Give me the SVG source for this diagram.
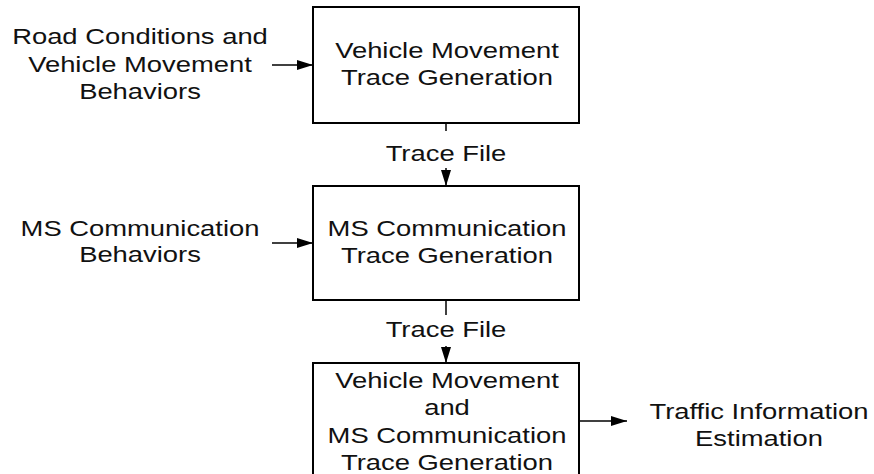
<svg xmlns="http://www.w3.org/2000/svg" width="874" height="474" viewBox="0 0 874 474">
  <style>
    .box { fill: #ffffff; stroke: #000000; stroke-width: 2; }
    .lbl { font-family: "Liberation Sans", Arial, sans-serif; font-size: 22px; fill: #111111; text-anchor: middle; }
    .wire { fill: none; stroke: #000000; stroke-width: 1.5; }
  </style>
  <defs>
    <marker id="arrow" markerWidth="16" markerHeight="10" refX="16" refY="5" orient="auto" markerUnits="userSpaceOnUse">
      <path d="M0,0 L16,5 L0,10 Z" fill="#000000"/>
    </marker>
  </defs>

  <rect width="874" height="474" fill="#ffffff"/>

  <!-- input: road conditions -->
  <g id="in-road">
    <text class="lbl" transform="translate(140 0) scale(1.245 1)" x="0" y="44">Road Conditions and</text>
    <text class="lbl" transform="translate(140 0) scale(1.245 1)" x="0" y="72">Vehicle Movement</text>
    <text class="lbl" transform="translate(140 0) scale(1.245 1)" x="0" y="99">Behaviors</text>
  </g>

  <!-- stage 1 -->
  <g id="vm-trace">
    <rect class="box" x="313" y="7" width="266" height="116"/>
    <text class="lbl" transform="translate(447 0) scale(1.245 1)" x="0" y="58">Vehicle Movement</text>
    <text class="lbl" transform="translate(447 0) scale(1.245 1)" x="0" y="85">Trace Generation</text>
  </g>

  <!-- input: MS communication -->
  <g id="in-ms">
    <text class="lbl" transform="translate(140 0) scale(1.245 1)" x="0" y="236">MS Communication</text>
    <text class="lbl" transform="translate(140 0) scale(1.245 1)" x="0" y="262">Behaviors</text>
  </g>

  <!-- stage 2 -->
  <g id="ms-trace">
    <rect class="box" x="313" y="186" width="266" height="114"/>
    <text class="lbl" transform="translate(447 0) scale(1.245 1)" x="0" y="236">MS Communication</text>
    <text class="lbl" transform="translate(447 0) scale(1.245 1)" x="0" y="263">Trace Generation</text>
  </g>

  <!-- stage 3 -->
  <g id="combined-trace">
    <rect class="box" x="313" y="363" width="266" height="130"/>
    <text class="lbl" transform="translate(447 0) scale(1.245 1)" x="0" y="388">Vehicle Movement</text>
    <text class="lbl" transform="translate(447 0) scale(1.245 1)" x="0" y="415">and</text>
    <text class="lbl" transform="translate(447 0) scale(1.245 1)" x="0" y="443">MS Communication</text>
    <text class="lbl" transform="translate(447 0) scale(1.245 1)" x="0" y="470">Trace Generation</text>
  </g>

  <!-- output -->
  <g id="out-traffic">
    <text class="lbl" transform="translate(759 0) scale(1.245 1)" x="0" y="419">Traffic Information</text>
    <text class="lbl" transform="translate(759 0) scale(1.245 1)" x="0" y="446">Estimation</text>
  </g>

  <!-- connectors -->
  <g id="connectors">
    <line class="wire" x1="272" y1="65" x2="313" y2="65" marker-end="url(#arrow)"/>
    <line class="wire" x1="272" y1="243" x2="313" y2="243" marker-end="url(#arrow)"/>
    <line class="wire" x1="446" y1="123" x2="446" y2="131"/>
    <line class="wire" x1="446" y1="168" x2="446" y2="186" marker-end="url(#arrow)"/>
    <line class="wire" x1="446" y1="300" x2="446" y2="315"/>
    <line class="wire" x1="446" y1="346" x2="446" y2="363" marker-end="url(#arrow)"/>
    <line class="wire" x1="579" y1="421" x2="627" y2="421" marker-end="url(#arrow)"/>
    <text class="lbl" transform="translate(446 0) scale(1.245 1)" x="0" y="161">Trace File</text>
    <text class="lbl" transform="translate(446 0) scale(1.245 1)" x="0" y="337">Trace File</text>
  </g>
</svg>
